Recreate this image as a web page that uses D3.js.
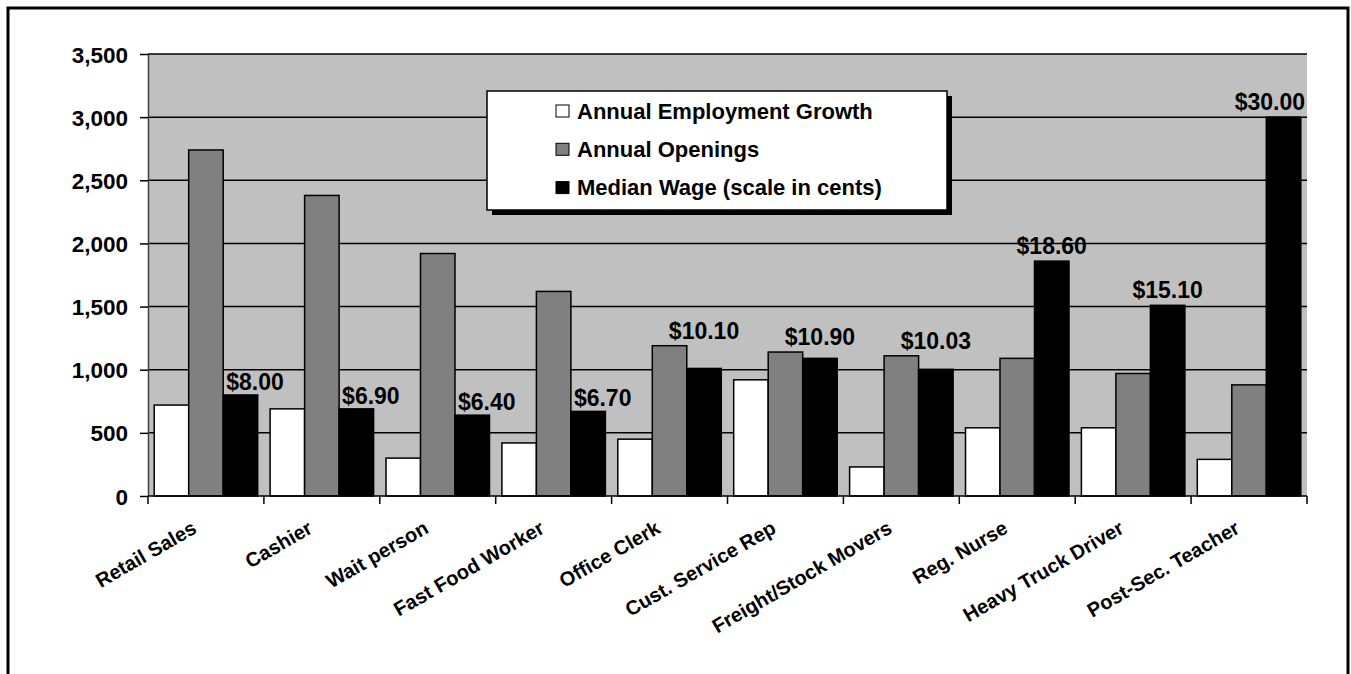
<!DOCTYPE html>
<html>
<head>
<meta charset="utf-8">
<script src="https://cdn.jsdelivr.net/npm/d3@7/dist/d3.min.js"></script>
<style>
  body { margin: 0; background: #fff; }
  svg text { font-family: "Liberation Sans", Arial, sans-serif; font-weight: bold; fill: #000; }
</style>
</head>
<body>
<div id="chart"></div>
<script>
// data
var categories = ["Retail Sales", "Cashier", "Wait person", "Fast Food Worker", "Office Clerk",
  "Cust. Service Rep", "Freight/Stock Movers", "Reg. Nurse", "Heavy Truck Driver", "Post-Sec. Teacher"];
var growth   = [720, 690, 300, 420, 450, 920, 230, 540, 540, 290];
var openings = [2740, 2380, 1920, 1620, 1190, 1140, 1110, 1090, 970, 880];
var wageCents = [800, 690, 640, 670, 1010, 1090, 1003, 1860, 1510, 3000];
var seriesNames = ["Annual Employment Growth", "Annual Openings", "Median Wage (scale in cents)"];
var yTicks = [0, 500, 1000, 1500, 2000, 2500, 3000, 3500];

var colors = ["#ffffff", "#808080", "#000000"];
var W = 1351, H = 674;
var plot = {left: 148, right: 1307, top: 54, bottom: 496};

var rows = categories.map(function(c, i) {
  return {cat: c, vals: [growth[i], openings[i], wageCents[i]]};
});

var svg = d3.select("#chart").append("svg")
  .attr("width", W).attr("height", H);

// outer frame
svg.append("rect")
  .attr("x", 8).attr("y", 8).attr("width", 1340).attr("height", 720)
  .attr("fill", "none").attr("stroke", "#000").attr("stroke-width", 3);

var x0 = d3.scaleBand().domain(categories)
  .range([plot.left, plot.right])
  .paddingInner(0.107).paddingOuter(0.0535);
var x1 = d3.scaleBand().domain([0, 1, 2]).range([0, x0.bandwidth()]);
var y = d3.scaleLinear().domain([0, 3500]).range([plot.bottom, plot.top]);

// plot area
svg.append("rect")
  .attr("x", plot.left).attr("y", plot.top)
  .attr("width", plot.right - plot.left).attr("height", plot.bottom - plot.top)
  .attr("fill", "#c0c0c0");

// gridlines
svg.append("g").selectAll("line")
  .data(yTicks.filter(function(d) { return d > 0; })).enter()
  .append("line")
  .attr("x1", plot.left).attr("x2", plot.right)
  .attr("y1", function(d) { return y(d); }).attr("y2", function(d) { return y(d); })
  .attr("stroke", "#000").attr("stroke-width", 1.5);

// y axis
var yAxis = svg.append("g")
  .attr("transform", "translate(" + plot.left + ",0)")
  .call(d3.axisLeft(y).tickValues(yTicks).tickFormat(d3.format(",")).tickSize(8).tickSizeOuter(0).tickPadding(12));
yAxis.select(".domain").attr("stroke", "#404040").attr("stroke-width", 1.5);
yAxis.selectAll(".tick line").attr("stroke", "#000").attr("stroke-width", 1.5);
yAxis.selectAll("text").style("font-size", "22.5px").attr("dy", "0.36em");

// bars
var groups = svg.append("g").selectAll("g")
  .data(rows).enter().append("g")
  .attr("transform", function(d) { return "translate(" + x0(d.cat) + ",0)"; });

groups.selectAll("rect")
  .data(function(d) { return d.vals; }).enter()
  .append("rect")
  .attr("x", function(d, i) { return x1(i); })
  .attr("y", function(d) { return y(d); })
  .attr("width", x1.bandwidth())
  .attr("height", function(d) { return y(0) - y(d); })
  .attr("fill", function(d, i) { return colors[i]; })
  .attr("stroke", "#000").attr("stroke-width", 1.5);

// x axis: labels via axis, boundary ticks drawn from the band scale
var xAxis = svg.append("g")
  .attr("transform", "translate(0," + plot.bottom + ")")
  .call(d3.axisBottom(x0).tickSize(0).tickSizeOuter(0));
xAxis.select(".domain").remove();
xAxis.selectAll("text")
  .style("font-size", "20px")
  .attr("text-anchor", "end")
  .attr("x", -8).attr("y", 36).attr("dy", 0)
  .attr("transform", "rotate(-30,-8,36)");

svg.append("line")
  .attr("x1", plot.left).attr("x2", plot.right)
  .attr("y1", plot.bottom).attr("y2", plot.bottom)
  .attr("stroke", "#000").attr("stroke-width", 1.5);

var half = x0.step() * x0.paddingInner() / 2;
var bounds = categories.map(function(c) { return x0(c) - half; }).concat([plot.right]);
svg.append("g").selectAll("line")
  .data(bounds).enter().append("line")
  .attr("x1", function(d) { return d; }).attr("x2", function(d) { return d; })
  .attr("y1", plot.bottom).attr("y2", plot.bottom + 8)
  .attr("stroke", "#000").attr("stroke-width", 1.5);

// wage labels
var fmt = function(v) { return "$" + (v / 100).toFixed(2); };
var labels = svg.append("g").selectAll("text")
  .data(rows).enter().append("text")
  .style("font-size", "23px")
  .text(function(d) { return fmt(d.vals[2]); });

labels.each(function(d) {
  var t = d3.select(this);
  var w = this.getComputedTextLength();
  var bx = x0(d.cat) + x1(2), bw = x1.bandwidth();
  var topB = y(d.vals[2]), topG = y(d.vals[1]);
  var lx, by;
  if (d.vals[1] - d.vals[2] > 400) {
    lx = bx + 3;
    by = topB - 5;
  } else {
    lx = bx + bw / 2 - w / 2;
    by = Math.min(topB, topG) - 7;
  }
  if (lx + w > plot.right - 2) lx = plot.right - 2 - w;
  t.attr("x", lx).attr("y", by);
});

// legend
var lg = svg.append("g").attr("transform", "translate(487,91)");
lg.append("rect").attr("x", 5).attr("y", 5).attr("width", 460).attr("height", 119).attr("fill", "#000");
lg.append("rect").attr("width", 460).attr("height", 119)
  .attr("fill", "#fff").attr("stroke", "#000").attr("stroke-width", 1.5);
var items = lg.selectAll(".item").data(seriesNames).enter().append("g")
  .attr("transform", function(d, i) { return "translate(69," + (14 + i * 38.3) + ")"; });
items.append("rect").attr("width", 13).attr("height", 12)
  .attr("fill", function(d, i) { return colors[i]; })
  .attr("stroke", "#000").attr("stroke-width", 1);
items.append("text").attr("x", 21).attr("y", 13.5)
  .style("font-size", "22px")
  .text(function(d) { return d; });
</script>
</body>
</html>
